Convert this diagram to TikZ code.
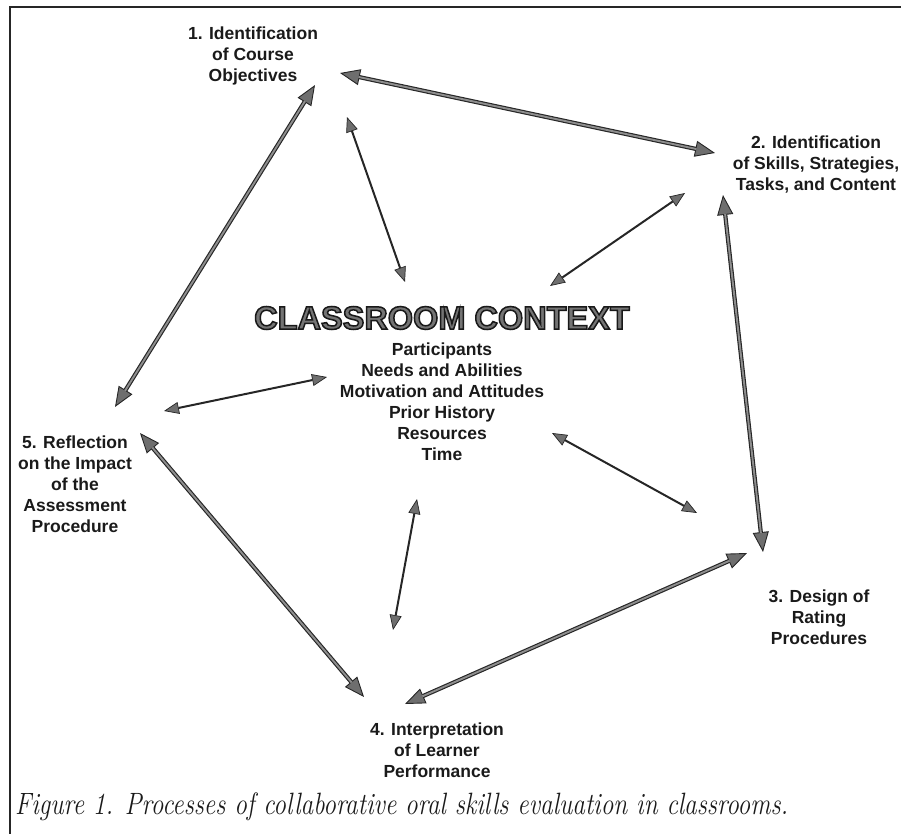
\documentclass[tikz,border=0pt]{standalone}
\usepackage{fontspec}
\usepackage{graphicx}
\newfontfamily\lsans{Liberation Sans}
\usetikzlibrary{arrows.meta}
\definecolor{txt}{HTML}{1A1A1A}
\definecolor{tipgray}{HTML}{6E6E6E}
\definecolor{linegray}{HTML}{8E8E8E}
\definecolor{edge}{HTML}{262626}
\definecolor{titlegray}{HTML}{747474}
\tikzset{
  stage/.style={align=center, inner sep=0pt, text=txt,
    font=\lsans\bfseries\fontsize{17.5}{21}\selectfont},
  titletext/.style={inner sep=0pt, text=titlegray,
    font=\lsans\bfseries\fontsize{32.5}{36}\selectfont},
  captiontext/.style={inner sep=0pt, text=txt, anchor=base west},
  bigtip/.tip={Triangle[length=20pt,width=16pt,fill=tipgray,line width=0.9pt]},
  smalltip/.tip={Triangle[length=15pt,width=12pt,fill=tipgray,line width=0.7pt]},
  thickarr/.style={bigtip-bigtip, draw=edge, line width=4.2pt,
    postaction={draw=linegray, line width=1.9pt, arrows=-, shorten >=19pt, shorten <=19pt}},
  thinarr/.style={smalltip-smalltip, draw=edge, line width=2pt},
  frameline/.style={draw=black!85, line width=1.8pt},
}
\begin{document}
\begin{tikzpicture}[x=1pt,y=-1pt]
\useasboundingbox (0,0) rectangle (901,834);
% frame
\coordinate (ftr) at (901,7);
\coordinate (ftl) at (10,7);
\coordinate (fbl) at (10,834);
\draw[frameline] (ftr) -- (ftl) -- (fbl);
% stages
\node[stage] (n1) at (253,56) {1. Identification\\of Course\\Objectives};
\node[stage] (n2) at (816,165) {2. Identification\\of Skills, Strategies,\\Tasks, and Content};
\node[stage] (n3) at (819,617) {3. Design of\\Rating\\Procedures};
\node[stage] (n4) at (437,750) {4. Interpretation\\of Learner\\Performance};
\node[stage] (n5) at (75,484) {5. Reflection\\on the Impact\\of the\\Assessment\\Procedure};
% centre
\node[titletext] (ctx) at (442,318) {\special{pdf:literal direct 2 Tr 1.5 w 0.1 0.1 0.1 RG}CLASSROOM CONTEXT\special{pdf:literal direct 0 Tr}};
\node[stage] (fac) at (442,402) {Participants\\Needs and Abilities\\Motivation and Attitudes\\Prior History\\Resources\\Time};
% caption
\node[captiontext] (cap) at (15,814) {\scalebox{1}[1.22]{\resizebox{773pt}{!}{\fontsize{22}{26}\selectfont\itshape Figure 1. Processes of collaborative oral skills evaluation in classrooms.}}};
% arrow ends
\coordinate (a12s) at (340,73);  \coordinate (a12e) at (715,153);
\coordinate (a15s) at (315,85);  \coordinate (a15e) at (115,407);
\coordinate (a1cs) at (347,117); \coordinate (a1ce) at (405,282);
\coordinate (a2cs) at (685,193); \coordinate (a2ce) at (550,286);
\coordinate (a23s) at (723,195); \coordinate (a23e) at (763,552);
\coordinate (a3cs) at (552,433); \coordinate (a3ce) at (697,513);
\coordinate (a34s) at (747,553); \coordinate (a34e) at (405,704);
\coordinate (a4cs) at (417,499); \coordinate (a4ce) at (393,630);
\coordinate (a45s) at (140,433); \coordinate (a45e) at (364,697);
\coordinate (a5cs) at (164,411); \coordinate (a5ce) at (327,377);
% arrows
\draw[thickarr] (a12s) -- (a12e);
\draw[thickarr] (a15s) -- (a15e);
\draw[thickarr] (a23s) -- (a23e);
\draw[thickarr] (a34s) -- (a34e);
\draw[thickarr] (a45s) -- (a45e);
\draw[thinarr] (a1cs) -- (a1ce);
\draw[thinarr] (a2cs) -- (a2ce);
\draw[thinarr] (a3cs) -- (a3ce);
\draw[thinarr] (a4cs) -- (a4ce);
\draw[thinarr] (a5cs) -- (a5ce);
\end{tikzpicture}
\end{document}
